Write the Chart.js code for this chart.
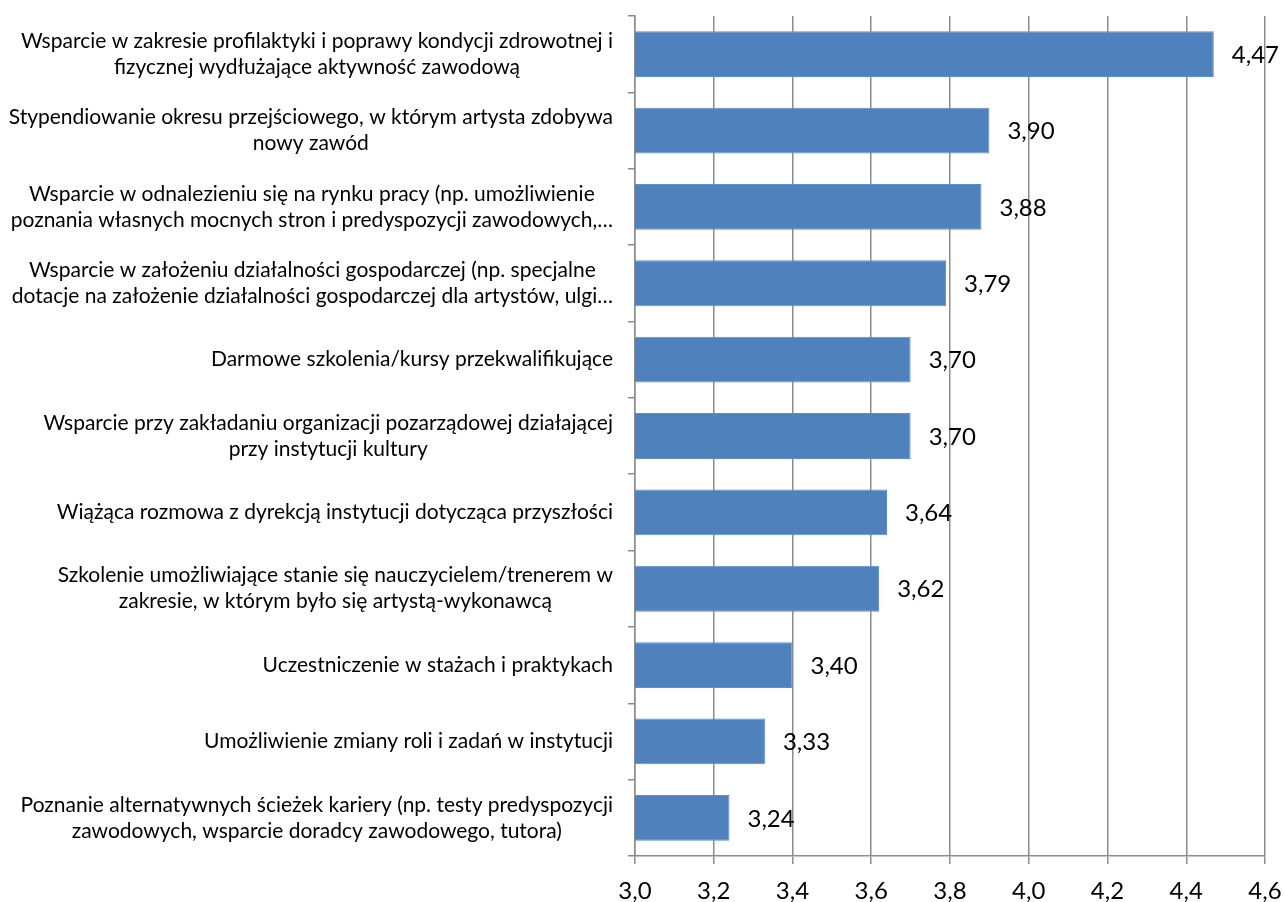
<!DOCTYPE html>
<html>
<head>
<meta charset="utf-8">
<script src="https://cdn.jsdelivr.net/npm/chart.js@4"></script>
<style>
    html, body { margin: 0; padding: 0; background: #fff; }
    #wrap { width: 1284px; height: 902px; }
</style>
</head>
<body>
<div id="wrap"><canvas id="bars"></canvas></div>
<script>
'use strict';

const categories = [
    ['Wsparcie w zakresie profilaktyki i poprawy kondycji zdrowotnej i', 'fizycznej wydłużające aktywność zawodową'],
    ['Stypendiowanie okresu przejściowego, w którym artysta zdobywa', 'nowy zawód'],
    ['Wsparcie w odnalezieniu się na rynku pracy (np. umożliwienie', 'poznania własnych mocnych stron i predyspozycji zawodowych,…'],
    ['Wsparcie w założeniu działalności gospodarczej (np. specjalne', 'dotacje na założenie działalności gospodarczej dla artystów, ulgi…'],
    ['Darmowe szkolenia/kursy przekwalifikujące'],
    ['Wsparcie przy zakładaniu organizacji pozarządowej działającej', 'przy instytucji kultury'],
    ['Wiążąca rozmowa z dyrekcją instytucji dotycząca przyszłości'],
    ['Szkolenie umożliwiające stanie się nauczycielem/trenerem w', 'zakresie, w którym było się artystą-wykonawcą'],
    ['Uczestniczenie w stażach i praktykach'],
    ['Umożliwienie zmiany roli i zadań w instytucji'],
    ['Poznanie alternatywnych ścieżek kariery (np. testy predyspozycji', 'zawodowych, wsparcie doradcy zawodowego, tutora)']
];
const values = [4.47, 3.90, 3.88, 3.79, 3.70, 3.70, 3.64, 3.62, 3.40, 3.33, 3.24];
const axisMin = 3.0;
const axisMax = 4.6;
const axisStep = 0.2;

const fontFamily = "Lato, 'Open Sans', sans-serif";
const gridGray = '#8c8c8c';

function fmt(v, d) {
    return v.toFixed(d).replace('.', ',');
}

// category labels: block right-aligned, lines centred inside the block
const categoryLabels = {
    id: 'categoryLabels',
    afterDraw: function (chart) {
        let ctx = chart.ctx;
        let yScale = chart.scales.y;
        let rightEdge = 613;
        let lineH = 26;
        ctx.save();
        ctx.font = '21px ' + fontFamily;
        ctx.fillStyle = '#000';
        ctx.textAlign = 'center';
        ctx.textBaseline = 'middle';
        categories.forEach(function (lines, i) {
            let cy = yScale.getPixelForTick(i);
            let maxW = 0;
            lines.forEach(function (l) {
                maxW = Math.max(maxW, ctx.measureText(l).width);
            });
            let cx = rightEdge - maxW / 2;
            let top = cy - (lines.length - 1) * lineH / 2;
            lines.forEach(function (l, k) {
                ctx.fillText(l, cx, top + k * lineH);
            });
        });
        ctx.restore();
    }
};

// value labels right of each bar
const valueLabels = {
    id: 'valueLabels',
    afterDatasetsDraw: function (chart) {
        let ctx = chart.ctx;
        let meta = chart.getDatasetMeta(0);
        ctx.save();
        ctx.font = '24px ' + fontFamily;
        ctx.fillStyle = '#000';
        ctx.textAlign = 'left';
        ctx.textBaseline = 'middle';
        meta.data.forEach(function (bar, i) {
            ctx.fillText(fmt(values[i], 2), bar.x + 18, bar.y + 1);
        });
        ctx.restore();
    }
};

let canvas = document.getElementById('bars').getContext('2d');
let myChart = new Chart(canvas, {
    type: 'bar',
    data: {
        labels: categories,
        datasets: [{
            data: values,
            backgroundColor: '#4f81bd',
            borderColor: '#5b8fd0',
            borderWidth: 1,
            categoryPercentage: 1.0,
            barPercentage: 0.6
        }]
    },
    plugins: [categoryLabels, valueLabels],
    options: {
        indexAxis: 'y',
        responsive: true,
        maintainAspectRatio: false,
        animation: false,
        layout: {
            padding: { top: 16, right: 19, left: 0, bottom: 0 }
        },
        plugins: {
            legend: { display: false },
            tooltip: { enabled: false },
            title: { display: false }
        },
        scales: {
            x: {
                type: 'linear',
                min: axisMin,
                max: axisMax,
                ticks: {
                    stepSize: axisStep,
                    color: '#000',
                    padding: 13,
                    font: { family: fontFamily, size: 24 },
                    callback: function (v) { return fmt(v, 1); }
                },
                grid: {
                    color: gridGray,
                    lineWidth: 1.5,
                    tickLength: 8,
                    drawTicks: true
                },
                border: { display: true, color: gridGray, width: 1.5 },
                afterFit: function (scale) {
                    scale.height = 46;
                    scale.paddingLeft = 0;
                    scale.paddingRight = 0;
                }
            },
            y: {
                ticks: { display: false },
                grid: {
                    drawOnChartArea: false,
                    drawTicks: true,
                    tickLength: 7,
                    color: gridGray,
                    lineWidth: 1.5
                },
                border: { display: true, color: gridGray, width: 1.5 },
                afterFit: function (scale) {
                    scale.width = 635;
                }
            }
        }
    }
});
</script>
</body>
</html>
